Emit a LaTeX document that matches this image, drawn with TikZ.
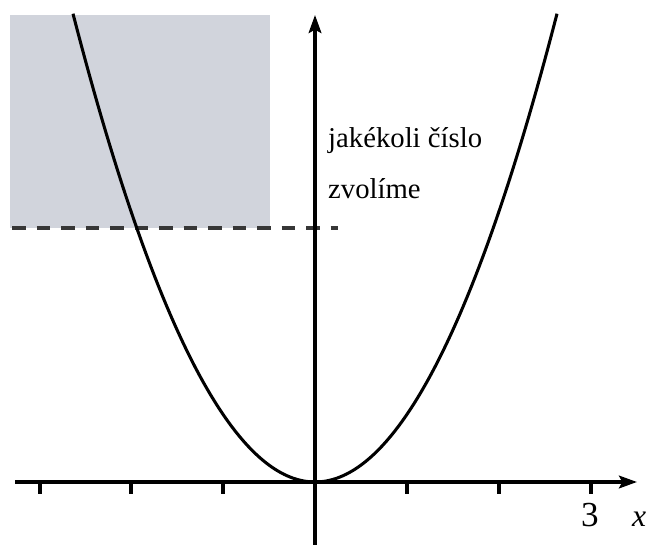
\documentclass[tikz,border=0pt]{standalone}
\usepackage{fontspec}
\setmainfont{Liberation Serif}
\usetikzlibrary{arrows.meta}
\definecolor{boxgray}{RGB}{209,212,220}
\definecolor{dashgray}{RGB}{55,55,55}
\begin{document}
\begin{tikzpicture}[x=0.03cm,y=-0.03cm,
  axis/.style={line width=2.8pt,-{Stealth[length=0.54cm,width=0.38cm,inset=0.1cm]}},
  tickmark/.style={line width=2.6pt},
  curve/.style={line width=2.6pt},
  level/.style={line width=2.6pt,dashgray,dash pattern=on 0.405cm off 0.33cm},
  lbl/.style={inner sep=0pt,font=\fontsize{24.5}{28}\selectfont}]
\useasboundingbox (0,0) rectangle (647,545);
\fill[boxgray] (10,15) rectangle (270,228);
\coordinate (O) at (315,482);
\coordinate (xs) at (15,482);
\coordinate (xe) at (637,482);
\coordinate (ys) at (315,546);
\coordinate (ye) at (315,15);
\coordinate (ds) at (12,228);
\coordinate (de) at (338,228);
\draw[level] (ds) -- (de);
\draw[curve] plot[domain=-242:242,samples=120] ({315+\x},{482-0.008*(\x)*(\x)});
\draw[axis] (xs) -- (xe);
\draw[axis] (ys) -- (ye);
\foreach \t in {40,131,223,407,499,591}
  \draw[tickmark] (\t,481) -- (\t,494);
\node[lbl,anchor=base west] (t1) at (328,148) {jakékoli číslo};
\node[lbl,anchor=base west] (t2) at (328,199) {zvolíme};
\node[lbl,anchor=base,font=\fontsize{30}{34}\selectfont] (n3) at (590,526) {3};
\node[lbl,anchor=base west,font=\fontsize{27}{30}\selectfont] (xl) at (632,526) {\itshape x};
\end{tikzpicture}
\end{document}
